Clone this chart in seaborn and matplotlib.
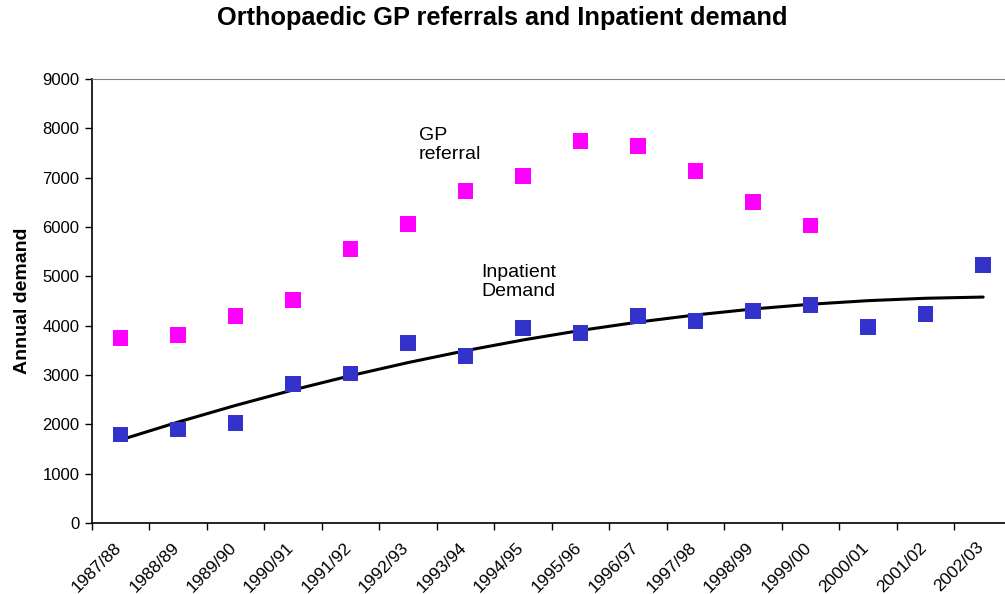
import numpy as np
import pandas as pd
import seaborn as sns
import matplotlib.pyplot as plt
from matplotlib.ticker import FixedLocator, NullFormatter
from matplotlib.transforms import ScaledTranslation

years = ["1987/88", "1988/89", "1989/90", "1990/91", "1991/92", "1992/93",
         "1993/94", "1994/95", "1995/96", "1996/97", "1997/98", "1998/99",
         "1999/00", "2000/01", "2001/02", "2002/03"]
inpatient = [1790, 1900, 2030, 2820, 3030, 3650, 3390, 3950, 3850, 4200,
             4100, 4300, 4420, 3970, 4240, 5230]
gp_referral = [3750, 3810, 4200, 4520, 5550, 6060, 6730, 7030, 7740, 7640,
               7130, 6510, 6030, np.nan, np.nan, np.nan]

idx = np.arange(len(years))
df = pd.DataFrame({"idx": idx, "inpatient": inpatient, "gp": gp_referral})

# polynomial (order 2) trend of inpatient demand, like the spreadsheet trendline
coef = np.polyfit(idx, inpatient, 2)
df["trend"] = np.polyval(coef, idx)

sns.set_style("white")
plt.rcParams["font.family"] = ["Liberation Sans", "DejaVu Sans"]
plt.rcParams["text.color"] = "black"
plt.rcParams["axes.labelcolor"] = "black"

fig = plt.figure(figsize=(10.05, 5.94), dpi=100)
ax = fig.add_axes([0.0915, 0.1195, 0.9125, 0.7475])

sns.lineplot(data=df, x="idx", y="trend", color="black", lw=2.2, ax=ax)
sns.scatterplot(data=df, x="idx", y="gp", marker="s", s=125, color="#FF00FF",
                edgecolor="none", ax=ax, zorder=3)
sns.scatterplot(data=df, x="idx", y="inpatient", marker="s", s=125,
                color="#3333CC", edgecolor="none", ax=ax, zorder=3)

ax.set_xlim(-0.5, 15.45)
ax.set_ylim(0, 9000)
ax.set_yticks(range(0, 9001, 1000))
ax.tick_params(axis="y", labelsize=12, length=5, width=1, direction="out",
               left=True, pad=4, colors="black")

# category boundaries get tick marks, labels sit at category centres
ax.xaxis.set_major_locator(FixedLocator(np.arange(-0.5, 16, 1)))
ax.xaxis.set_major_formatter(NullFormatter())
ax.set_xticks(idx, minor=True)
ax.set_xticklabels(years, minor=True, rotation=45, ha="right",
                   rotation_mode="anchor")
ax.tick_params(axis="x", which="major", length=5, width=1, direction="out",
               bottom=True, color="black")
ax.tick_params(axis="x", which="minor", length=0, labelsize=12.5, pad=12,
               labelcolor="black")
shift = ScaledTranslation(-7 / 100, 0, fig.dpi_scale_trans)
for lab in ax.get_xticklabels(minor=True):
    lab.set_transform(lab.get_transform() + shift)

for side in ["left", "bottom"]:
    ax.spines[side].set_color("black")
    ax.spines[side].set_linewidth(1.2)
ax.spines["top"].set_color("#808080")
ax.spines["right"].set_visible(False)

ax.set_xlabel("")
ax.set_ylabel("Annual demand", fontsize=14, fontweight="bold", labelpad=8)

ax.text(5.19, 8030, "GP\nreferral", fontsize=14, va="top", ha="left",
        linespacing=1.15)
ax.text(6.27, 5250, "Inpatient\nDemand", fontsize=14, va="top", ha="left",
        linespacing=1.15)

fig.suptitle("Orthopaedic GP referrals and Inpatient demand", fontsize=18.3,
             fontweight="bold", y=0.97, va="center")

fig.savefig("out.png", dpi=100)
